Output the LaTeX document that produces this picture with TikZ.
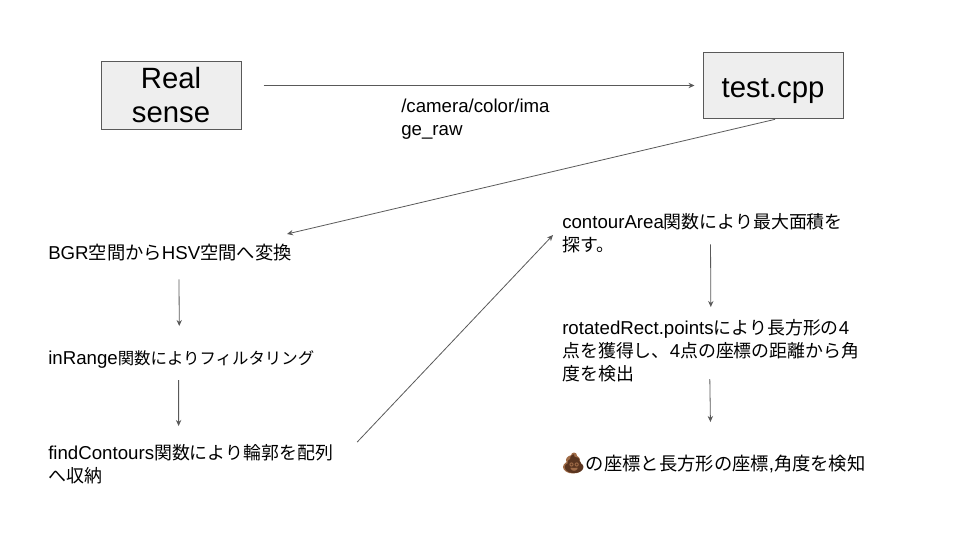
\documentclass[tikz,border=0pt]{standalone}
\usepackage{fontspec}
\setmainfont{Liberation Sans}
\newfontfamily\cjk[Scale=0.96]{Noto Sans CJK JP}
\newfontfamily\cjkwide[Scale=0.98]{Noto Sans CJK JP}
\newfontfamily\cjknarrow[Scale=0.88]{Noto Sans CJK JP}
\newfontfamily\emojifont{Noto Emoji}
\usepackage{xcolor}
\usetikzlibrary{arrows.meta}
\definecolor{boxfill}{HTML}{EEEEEE}
\definecolor{linegray}{HTML}{595959}
\definecolor{pilecolor}{HTML}{A06C48}
\definecolor{pileline}{HTML}{5A3520}
\newcommand{\jp}[1]{{\cjk #1}}
\newcommand{\jpw}[1]{{\cjkwide #1}}
\newcommand{\jpn}[1]{{\cjknarrow #1}}
\tikzset{
  flow box/.style={draw=linegray,fill=boxfill,line width=.75pt,inner sep=0pt,align=center,font=\fontsize{22}{25.5}\selectfont},
  flow text/.style={anchor=north west,inner sep=0pt,align=left,font=\fontsize{14}{17.25}\selectfont},
  flow arrow/.style={linegray,line width=.6pt,-{Stealth[length=4.5pt,width=4pt]}}
}
\begin{document}
\begin{tikzpicture}[x=.75pt,y=-.75pt]
  \useasboundingbox (0,0) rectangle (960,540);
  \node[flow box,minimum width=105pt,minimum height=51.5pt] (realsense) at (171,95.5) {Real\\sense};
  \node[flow box,minimum width=105pt,minimum height=50pt] (testcpp) at (773,85.5) {\rule{0pt}{23pt}test.cpp};
  \node[flow text] (topic) at (401,99) {/camera/color/ima\\ge\_raw};
  \node[flow text] (bgr) at (48,244) {BGR\jpw{空間から}HSV\jpw{空間へ変換}};
  \node[flow text] (inrange) at (48,350) {inRange\jpn{関数によりフィルタリング}};
  \node[flow text] (findcontours) at (48,444) {findContours\jp{関数により輪郭を配列}\\\jp{へ収納}};
  \node[flow text] (contourarea) at (562,213) {contourArea\jp{関数により最大面積を}\\\jp{探す。}};
  \node[flow text] (rotatedrect) at (562,319) {rotatedRect.points\jp{により長方形の}4\\\jp{点を獲得し、}4\jp{点の座標の距離から角}\\\jp{度を検出}};
  % pile behind the glyph
  \fill[pilecolor] (573,467) ellipse (10 and 6.5);
  \fill[pilecolor] (573,460) ellipse (7 and 5);
  \fill[pilecolor] (574,455.5) ellipse (3 and 3);
  \node[flow text] (result) at (562,454) {\textcolor{pileline}{\emojifont 💩}\jpw{の座標と長方形の座標},\jpw{角度を検知}};
  \draw[flow arrow] ([xshift=16.5pt,yshift=7.5pt]realsense.east) -- ([xshift=-6pt]testcpp.west);
  \draw[flow arrow] ([xshift=1.5pt]testcpp.south) -- ([xshift=-3.75pt,yshift=7.5pt]bgr.north east);
  \draw[flow arrow] ([xshift=6.75pt,yshift=-13.5pt]bgr.south) -- ([xshift=-1.5pt,yshift=18pt]inrange.north);
  \draw[flow arrow] ([xshift=-2pt,yshift=-9pt]inrange.south) -- ([xshift=-9pt,yshift=13.5pt]findcontours.north);
  \draw[flow arrow] ([xshift=18pt,yshift=16.5pt]findcontours.east) -- ([xshift=-6.75pt,yshift=-1.5pt]contourarea.west);
  \draw[flow arrow] ([xshift=6pt,yshift=6.5pt]contourarea.south) -- ([yshift=9pt]rotatedrect.north);
  \draw[flow arrow] ([xshift=-.75pt,yshift=2.25pt]rotatedrect.south) -- ([xshift=-2.6pt,yshift=24pt]result.north);
\end{tikzpicture}
\end{document}
